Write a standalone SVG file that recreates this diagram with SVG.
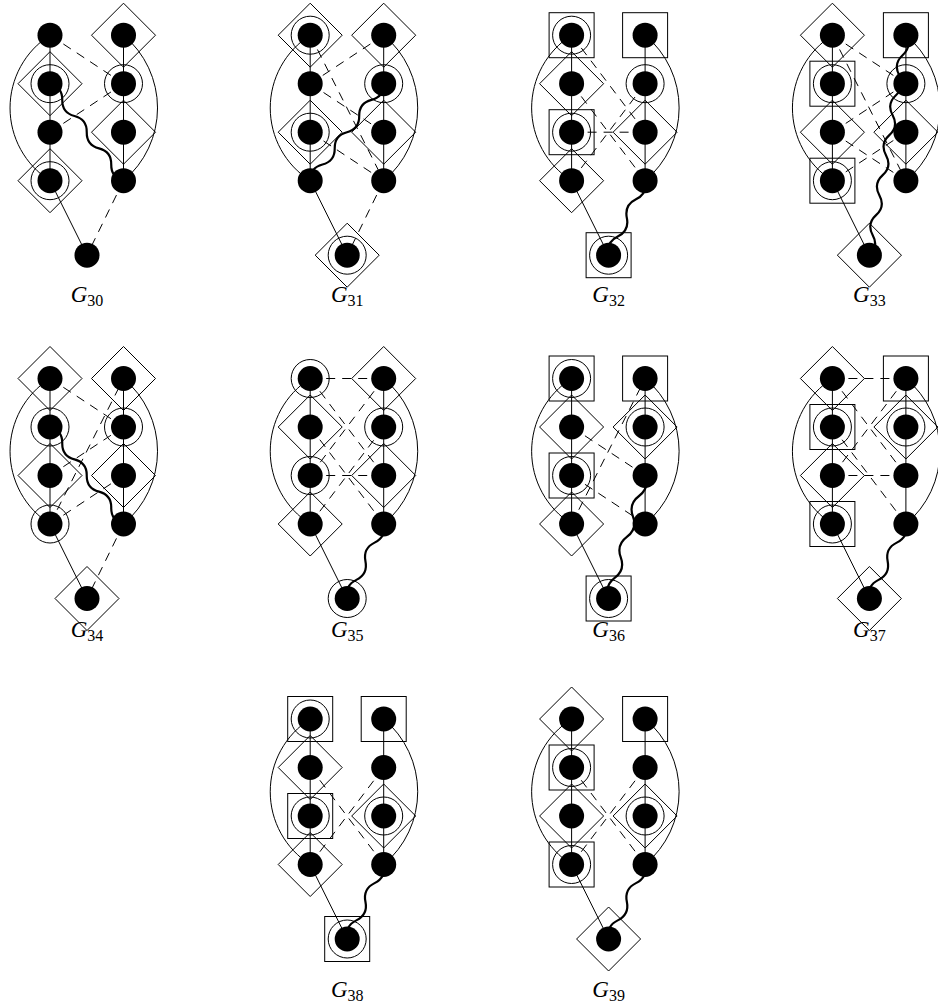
<svg xmlns="http://www.w3.org/2000/svg" xmlns:xlink="http://www.w3.org/1999/xlink" width="938" height="1007" viewBox="0 0 938 1007">
<style>
.e{fill:none;stroke:#000;stroke-width:1}
.d{stroke-dasharray:9 7}
.w{fill:none;stroke:#000;stroke-width:2.2;stroke-linecap:round}
.o{fill:none;stroke:#000;stroke-width:1}
.n{fill:#000}
.lbl{font-family:"Liberation Serif",serif;font-size:23px;fill:#000}
.lbl .sub{font-style:normal;font-size:16px}
</style>
<defs>
<circle id="dot" class="n" r="12.5"/>
<circle id="ring" class="o" r="19"/>
<path id="dia" class="o" d="M0,-32 L32,0 L0,32 L-32,0 Z"/>
<rect id="sq" class="o" x="-22.5" y="-22.5" width="45" height="45"/>
<path id="base" class="e" d="M50,0 V145.5 M123.5,0 V145.5 M50,0 A86.2,86.2 0 0 0 50,145.5 M123.5,0 A94.8,94.8 0 0 1 123.5,145.5 M50,145.5 L87,220"/>
<path id="waveA" class="w" d="M0,0 q10.14,-8 20.28,0 t20.28,0 t20.28,0 t20.28,0 t20.28,0 t20.28,0"/>
<path id="waveB" class="w" d="M0,0 q10.37,-8 20.74,0 t20.74,0 t20.74,0 t20.74,0"/>
<path id="waveC" class="w" d="M0,0 q10.14,-8 20.27,0 t20.27,0 t20.27,0 t20.27,0 t20.27,0 t20.27,0 t20.27,0 t20.27,0 t20.27,0 t20.27,0 t20.27,0"/>
<path id="waveD" class="w" d="M0,0 q10.69,-8 21.38,0 t21.38,0 t21.38,0 t21.38,0 t21.38,0 t21.38,0"/>
</defs>

<!-- G30 -->
<g id="G30" transform="translate(0,35.2)">
<g id="g30-edges">
<use href="#base"/>
<path class="e d" d="M50,0 L123.5,48.5 M50,97 L123.5,48.5 M123.5,145.5 L87,220"/>
<use href="#waveA" transform="translate(50,48.5) rotate(52.85)"/>
</g>
<g id="g30-L1"><use href="#dot" x="50" y="0"/></g>
<g id="g30-L2"><use href="#dia" x="50" y="48.5"/><use href="#ring" x="50" y="48.5"/><use href="#dot" x="50" y="48.5"/></g>
<g id="g30-L3"><use href="#dot" x="50" y="97"/></g>
<g id="g30-L4"><use href="#dia" x="50" y="145.5"/><use href="#ring" x="50" y="145.5"/><use href="#dot" x="50" y="145.5"/></g>
<g id="g30-R1"><use href="#dia" x="123.5" y="0"/><use href="#dot" x="123.5" y="0"/></g>
<g id="g30-R2"><use href="#ring" x="123.5" y="48.5"/><use href="#dot" x="123.5" y="48.5"/></g>
<g id="g30-R3"><use href="#dia" x="123.5" y="97"/><use href="#dot" x="123.5" y="97"/></g>
<g id="g30-R4"><use href="#dot" x="123.5" y="145.5"/></g>
<g id="g30-B"><use href="#dot" x="87" y="220"/></g>
</g>
<text class="lbl" x="87" y="302" text-anchor="middle"><tspan font-style="italic">G</tspan><tspan class="sub" dy="4">30</tspan></text>

<!-- G31 -->
<g id="G31" transform="translate(260.2,35.2)">
<g id="g31-edges">
<use href="#base"/>
<path class="e d" d="M123.5,0 L50,48.5 M50,0 L123.5,145.5 M50,48.5 L123.5,97 M50,97 L123.5,145.5 M123.5,145.5 L87,220"/>
<use href="#waveA" transform="translate(123.5,48.5) rotate(127.15)"/>
</g>
<g id="g31-L1"><use href="#dia" x="50" y="0"/><use href="#ring" x="50" y="0"/><use href="#dot" x="50" y="0"/></g>
<g id="g31-L2"><use href="#dot" x="50" y="48.5"/></g>
<g id="g31-L3"><use href="#dia" x="50" y="97"/><use href="#ring" x="50" y="97"/><use href="#dot" x="50" y="97"/></g>
<g id="g31-L4"><use href="#dot" x="50" y="145.5"/></g>
<g id="g31-R1"><use href="#dia" x="123.5" y="0"/><use href="#dot" x="123.5" y="0"/></g>
<g id="g31-R2"><use href="#ring" x="123.5" y="48.5"/><use href="#dot" x="123.5" y="48.5"/></g>
<g id="g31-R3"><use href="#dia" x="123.5" y="97"/><use href="#dot" x="123.5" y="97"/></g>
<g id="g31-R4"><use href="#dot" x="123.5" y="145.5"/></g>
<g id="g31-B"><use href="#dia" x="87" y="220"/><use href="#ring" x="87" y="220"/><use href="#dot" x="87" y="220"/></g>
</g>
<text class="lbl" x="347.2" y="302" text-anchor="middle"><tspan font-style="italic">G</tspan><tspan class="sub" dy="4">31</tspan></text>

<!-- G32 -->
<g id="G32" transform="translate(521.6,35.2)">
<g id="g32-edges">
<use href="#base"/>
<path class="e d" d="M50,0 L123.5,97 M50,48.5 L123.5,145.5 M50,97 L123.5,97 M50,145.5 L123.5,48.5"/>
<use href="#waveB" transform="translate(123.5,145.5) rotate(116.1)"/>
</g>
<g id="g32-L1"><use href="#sq" x="50" y="0"/><use href="#ring" x="50" y="0"/><use href="#dot" x="50" y="0"/></g>
<g id="g32-L2"><use href="#dia" x="50" y="48.5"/><use href="#dot" x="50" y="48.5"/></g>
<g id="g32-L3"><use href="#sq" x="50" y="97"/><use href="#ring" x="50" y="97"/><use href="#dot" x="50" y="97"/></g>
<g id="g32-L4"><use href="#dia" x="50" y="145.5"/><use href="#dot" x="50" y="145.5"/></g>
<g id="g32-R1"><use href="#sq" x="123.5" y="0"/><use href="#dot" x="123.5" y="0"/></g>
<g id="g32-R2"><use href="#ring" x="123.5" y="48.5"/><use href="#dot" x="123.5" y="48.5"/></g>
<g id="g32-R3"><use href="#dia" x="123.5" y="97"/><use href="#dot" x="123.5" y="97"/></g>
<g id="g32-R4"><use href="#dot" x="123.5" y="145.5"/></g>
<g id="g32-B"><use href="#sq" x="87" y="220"/><use href="#ring" x="87" y="220"/><use href="#dot" x="87" y="220"/></g>
</g>
<text class="lbl" x="608.6" y="302" text-anchor="middle"><tspan font-style="italic">G</tspan><tspan class="sub" dy="4">32</tspan></text>

<!-- G33 -->
<g id="G33" transform="translate(782.4,35.2)">
<g id="g33-edges">
<use href="#base"/>
<path class="e d" d="M50,0 L123.5,48.5 M50,0 L123.5,145.5 M50,97 L123.5,48.5 M50,97 L123.5,145.5 M50,145.5 L123.5,97"/>
<use href="#waveC" transform="translate(123.5,0) rotate(99.42)"/>
</g>
<g id="g33-L1"><use href="#dia" x="50" y="0"/><use href="#dot" x="50" y="0"/></g>
<g id="g33-L2"><use href="#sq" x="50" y="48.5"/><use href="#ring" x="50" y="48.5"/><use href="#dot" x="50" y="48.5"/></g>
<g id="g33-L3"><use href="#dia" x="50" y="97"/><use href="#dot" x="50" y="97"/></g>
<g id="g33-L4"><use href="#sq" x="50" y="145.5"/><use href="#ring" x="50" y="145.5"/><use href="#dot" x="50" y="145.5"/></g>
<g id="g33-R1"><use href="#sq" x="123.5" y="0"/><use href="#dot" x="123.5" y="0"/></g>
<g id="g33-R2"><use href="#ring" x="123.5" y="48.5"/><use href="#dot" x="123.5" y="48.5"/></g>
<g id="g33-R3"><use href="#dia" x="123.5" y="97"/><use href="#dot" x="123.5" y="97"/></g>
<g id="g33-R4"><use href="#dot" x="123.5" y="145.5"/></g>
<g id="g33-B"><use href="#dia" x="87" y="220"/><use href="#dot" x="87" y="220"/></g>
</g>
<text class="lbl" x="869.4" y="302" text-anchor="middle"><tspan font-style="italic">G</tspan><tspan class="sub" dy="4">33</tspan></text>

<!-- G34 -->
<g id="G34" transform="translate(0,378.5)">
<g id="g34-edges">
<use href="#base"/>
<path class="e d" d="M50,0 L123.5,48.5 M50,97 L123.5,48.5 M50,145.5 L123.5,0 M50,145.5 L123.5,97 M123.5,145.5 L87,220"/>
<use href="#waveA" transform="translate(50,48.5) rotate(52.85)"/>
</g>
<g id="g34-L1"><use href="#dia" x="50" y="0"/><use href="#dot" x="50" y="0"/></g>
<g id="g34-L2"><use href="#ring" x="50" y="48.5"/><use href="#dot" x="50" y="48.5"/></g>
<g id="g34-L3"><use href="#dia" x="50" y="97"/><use href="#dot" x="50" y="97"/></g>
<g id="g34-L4"><use href="#ring" x="50" y="145.5"/><use href="#dot" x="50" y="145.5"/></g>
<g id="g34-R1"><use href="#dia" x="123.5" y="0"/><use href="#dot" x="123.5" y="0"/></g>
<g id="g34-R2"><use href="#ring" x="123.5" y="48.5"/><use href="#dot" x="123.5" y="48.5"/></g>
<g id="g34-R3"><use href="#dia" x="123.5" y="97"/><use href="#dot" x="123.5" y="97"/></g>
<g id="g34-R4"><use href="#dot" x="123.5" y="145.5"/></g>
<g id="g34-B"><use href="#dia" x="87" y="220"/><use href="#dot" x="87" y="220"/></g>
</g>
<text class="lbl" x="87" y="637" text-anchor="middle"><tspan font-style="italic">G</tspan><tspan class="sub" dy="4">34</tspan></text>

<!-- G35 -->
<g id="G35" transform="translate(260.2,378.5)">
<g id="g35-edges">
<use href="#base"/>
<path class="e d" d="M50,0 L123.5,0 M50,0 L123.5,97 M123.5,0 L50,97 M50,97 L123.5,97 M50,48.5 L123.5,145.5 M50,145.5 L123.5,48.5"/>
<use href="#waveB" transform="translate(123.5,145.5) rotate(116.1)"/>
</g>
<g id="g35-L1"><use href="#ring" x="50" y="0"/><use href="#dot" x="50" y="0"/></g>
<g id="g35-L2"><use href="#dia" x="50" y="48.5"/><use href="#dot" x="50" y="48.5"/></g>
<g id="g35-L3"><use href="#ring" x="50" y="97"/><use href="#dot" x="50" y="97"/></g>
<g id="g35-L4"><use href="#dia" x="50" y="145.5"/><use href="#dot" x="50" y="145.5"/></g>
<g id="g35-R1"><use href="#dia" x="123.5" y="0"/><use href="#dot" x="123.5" y="0"/></g>
<g id="g35-R2"><use href="#ring" x="123.5" y="48.5"/><use href="#dot" x="123.5" y="48.5"/></g>
<g id="g35-R3"><use href="#dia" x="123.5" y="97"/><use href="#dot" x="123.5" y="97"/></g>
<g id="g35-R4"><use href="#dot" x="123.5" y="145.5"/></g>
<g id="g35-B"><use href="#ring" x="87" y="220"/><use href="#dot" x="87" y="220"/></g>
</g>
<text class="lbl" x="347.2" y="637" text-anchor="middle"><tspan font-style="italic">G</tspan><tspan class="sub" dy="4">35</tspan></text>

<!-- G36 -->
<g id="G36" transform="translate(521.6,378.5)">
<g id="g36-edges">
<use href="#base"/>
<path class="e d" d="M50,48.5 L123.5,97 M50,97 L123.5,145.5 M50,145.5 L123.5,0"/>
<use href="#waveD" transform="translate(123.5,97) rotate(106.53)"/>
</g>
<g id="g36-L1"><use href="#sq" x="50" y="0"/><use href="#ring" x="50" y="0"/><use href="#dot" x="50" y="0"/></g>
<g id="g36-L2"><use href="#dia" x="50" y="48.5"/><use href="#dot" x="50" y="48.5"/></g>
<g id="g36-L3"><use href="#sq" x="50" y="97"/><use href="#ring" x="50" y="97"/><use href="#dot" x="50" y="97"/></g>
<g id="g36-L4"><use href="#dia" x="50" y="145.5"/><use href="#dot" x="50" y="145.5"/></g>
<g id="g36-R1"><use href="#sq" x="123.5" y="0"/><use href="#dot" x="123.5" y="0"/></g>
<g id="g36-R2"><use href="#dia" x="123.5" y="48.5"/><use href="#ring" x="123.5" y="48.5"/><use href="#dot" x="123.5" y="48.5"/></g>
<g id="g36-R3"><use href="#dot" x="123.5" y="97"/></g>
<g id="g36-R4"><use href="#dot" x="123.5" y="145.5"/></g>
<g id="g36-B"><use href="#sq" x="87" y="220"/><use href="#ring" x="87" y="220"/><use href="#dot" x="87" y="220"/></g>
</g>
<text class="lbl" x="608.6" y="637" text-anchor="middle"><tspan font-style="italic">G</tspan><tspan class="sub" dy="4">36</tspan></text>

<!-- G37 -->
<g id="G37" transform="translate(782.4,378.5)">
<g id="g37-edges">
<use href="#base"/>
<path class="e d" d="M50,0 L123.5,0 M50,0 L123.5,97 M123.5,0 L50,97 M50,97 L123.5,97 M50,48.5 L123.5,145.5"/>
<use href="#waveB" transform="translate(123.5,145.5) rotate(116.1)"/>
</g>
<g id="g37-L1"><use href="#dia" x="50" y="0"/><use href="#dot" x="50" y="0"/></g>
<g id="g37-L2"><use href="#sq" x="50" y="48.5"/><use href="#ring" x="50" y="48.5"/><use href="#dot" x="50" y="48.5"/></g>
<g id="g37-L3"><use href="#dia" x="50" y="97"/><use href="#dot" x="50" y="97"/></g>
<g id="g37-L4"><use href="#sq" x="50" y="145.5"/><use href="#ring" x="50" y="145.5"/><use href="#dot" x="50" y="145.5"/></g>
<g id="g37-R1"><use href="#sq" x="123.5" y="0"/><use href="#dot" x="123.5" y="0"/></g>
<g id="g37-R2"><use href="#dia" x="123.5" y="48.5"/><use href="#ring" x="123.5" y="48.5"/><use href="#dot" x="123.5" y="48.5"/></g>
<g id="g37-R3"><use href="#dot" x="123.5" y="97"/></g>
<g id="g37-R4"><use href="#dot" x="123.5" y="145.5"/></g>
<g id="g37-B"><use href="#dia" x="87" y="220"/><use href="#dot" x="87" y="220"/></g>
</g>
<text class="lbl" x="869.4" y="637" text-anchor="middle"><tspan font-style="italic">G</tspan><tspan class="sub" dy="4">37</tspan></text>

<!-- G38 -->
<g id="G38" transform="translate(260.2,719)">
<g id="g38-edges">
<use href="#base"/>
<path class="e d" d="M50,48.5 L123.5,145.5 M50,145.5 L123.5,48.5"/>
<use href="#waveB" transform="translate(123.5,145.5) rotate(116.1)"/>
</g>
<g id="g38-L1"><use href="#sq" x="50" y="0"/><use href="#ring" x="50" y="0"/><use href="#dot" x="50" y="0"/></g>
<g id="g38-L2"><use href="#dia" x="50" y="48.5"/><use href="#dot" x="50" y="48.5"/></g>
<g id="g38-L3"><use href="#sq" x="50" y="97"/><use href="#ring" x="50" y="97"/><use href="#dot" x="50" y="97"/></g>
<g id="g38-L4"><use href="#dia" x="50" y="145.5"/><use href="#dot" x="50" y="145.5"/></g>
<g id="g38-R1"><use href="#sq" x="123.5" y="0"/><use href="#dot" x="123.5" y="0"/></g>
<g id="g38-R2"><use href="#dot" x="123.5" y="48.5"/></g>
<g id="g38-R3"><use href="#dia" x="123.5" y="97"/><use href="#ring" x="123.5" y="97"/><use href="#dot" x="123.5" y="97"/></g>
<g id="g38-R4"><use href="#dot" x="123.5" y="145.5"/></g>
<g id="g38-B"><use href="#sq" x="87" y="220"/><use href="#ring" x="87" y="220"/><use href="#dot" x="87" y="220"/></g>
</g>
<text class="lbl" x="347.2" y="997" text-anchor="middle"><tspan font-style="italic">G</tspan><tspan class="sub" dy="4">38</tspan></text>

<!-- G39 -->
<g id="G39" transform="translate(521.6,719)">
<g id="g39-edges">
<use href="#base"/>
<path class="e d" d="M50,48.5 L123.5,145.5 M50,145.5 L123.5,48.5"/>
<use href="#waveB" transform="translate(123.5,145.5) rotate(116.1)"/>
</g>
<g id="g39-L1"><use href="#dia" x="50" y="0"/><use href="#dot" x="50" y="0"/></g>
<g id="g39-L2"><use href="#sq" x="50" y="48.5"/><use href="#ring" x="50" y="48.5"/><use href="#dot" x="50" y="48.5"/></g>
<g id="g39-L3"><use href="#dia" x="50" y="97"/><use href="#dot" x="50" y="97"/></g>
<g id="g39-L4"><use href="#sq" x="50" y="145.5"/><use href="#ring" x="50" y="145.5"/><use href="#dot" x="50" y="145.5"/></g>
<g id="g39-R1"><use href="#sq" x="123.5" y="0"/><use href="#dot" x="123.5" y="0"/></g>
<g id="g39-R2"><use href="#dot" x="123.5" y="48.5"/></g>
<g id="g39-R3"><use href="#dia" x="123.5" y="97"/><use href="#ring" x="123.5" y="97"/><use href="#dot" x="123.5" y="97"/></g>
<g id="g39-R4"><use href="#dot" x="123.5" y="145.5"/></g>
<g id="g39-B"><use href="#dia" x="87" y="220"/><use href="#dot" x="87" y="220"/></g>
</g>
<text class="lbl" x="608.6" y="997" text-anchor="middle"><tspan font-style="italic">G</tspan><tspan class="sub" dy="4">39</tspan></text>
</svg>
